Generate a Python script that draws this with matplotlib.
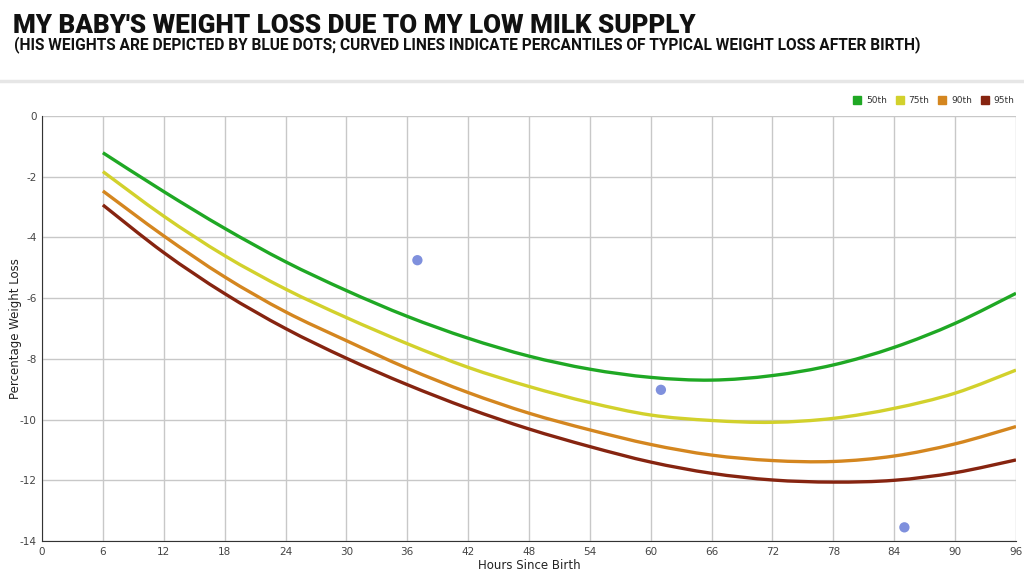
import matplotlib
matplotlib.use("Agg")
import matplotlib.pyplot as plt
from matplotlib.path import Path
from matplotlib.patches import PathPatch
import numpy as np

hours = [6, 12, 18, 24, 30, 36, 42, 48, 54, 60, 66, 72, 78, 84, 90, 96]
p50 = [-1.21, -2.49, -3.70, -4.80, -5.75, -6.60, -7.32, -7.91, -8.34, -8.61, -8.70, -8.55, -8.20, -7.62, -6.83, -5.84]
p75 = [-1.83, -3.30, -4.60, -5.70, -6.64, -7.50, -8.28, -8.91, -9.44, -9.85, -10.03, -10.09, -9.96, -9.63, -9.13, -8.37]
p90 = [-2.47, -3.95, -5.30, -6.45, -7.40, -8.31, -9.11, -9.79, -10.34, -10.82, -11.17, -11.35, -11.38, -11.20, -10.80, -10.23]
p95 = [-2.93, -4.50, -5.85, -7.00, -7.98, -8.85, -9.63, -10.31, -10.89, -11.40, -11.77, -11.99, -12.06, -12.00, -11.75, -11.33]

baby_hours = [37, 61, 85]
baby_loss = [-4.75, -9.02, -13.55]

series_labels = ["50th", "75th", "90th", "95th"]
series_colors = ["#1fa824", "#d2d12c", "#d4861f", "#862410"]

plt.rcParams["axes.unicode_minus"] = False


def smooth_path(x, y):
    # catmull-rom through the points, drawn as cubic bezier segments
    x = np.asarray(x, float)
    y = np.asarray(y, float)
    verts = [(x[0], y[0])]
    codes = [Path.MOVETO]
    n = len(x)
    for i in range(n - 1):
        i0 = max(i - 1, 0)
        i3 = min(i + 2, n - 1)
        c1 = (x[i] + (x[i + 1] - x[i0]) / 6, y[i] + (y[i + 1] - y[i0]) / 6)
        c2 = (x[i + 1] - (x[i3] - x[i]) / 6, y[i + 1] - (y[i3] - y[i]) / 6)
        verts += [c1, c2, (x[i + 1], y[i + 1])]
        codes += [Path.CURVE4] * 3
    return Path(verts, codes)


fig = plt.figure(figsize=(10.24, 5.75), dpi=100)
fig.patch.set_facecolor("white")

fig.text(13 / 1024, 1 - 26 / 575, "MY BABY'S WEIGHT LOSS DUE TO MY LOW MILK SUPPLY",
         fontsize=18.7, fontweight="black", family=["Roboto", "DejaVu Sans"],
         va="center", ha="left", color="#111111")
fig.text(14 / 1024, 1 - 45 / 575,
         "(HIS WEIGHTS ARE DEPICTED BY BLUE DOTS; CURVED LINES INDICATE PERCANTILES OF TYPICAL WEIGHT LOSS AFTER BIRTH)",
         fontsize=11.2, fontweight="bold", family=["Roboto", "DejaVu Sans"],
         va="center", ha="left", color="#111111")

# grey separator band
fig.add_artist(plt.Line2D([0, 1], [1 - 81 / 575, 1 - 81 / 575], color="#e6e6e6", lw=2.5,
                          transform=fig.transFigure))

ax = fig.add_axes([42 / 1024, 34 / 575, 974 / 1024, 425 / 575])

series = [p50, p75, p90, p95]
for vals, col in zip(series, series_colors):
    ax.add_patch(PathPatch(smooth_path(hours, vals), facecolor="none", edgecolor=col,
                           lw=2.4, capstyle="butt", zorder=3))

ax.scatter(baby_hours, baby_loss, s=55, color="#7f90dd", zorder=4, edgecolors="none")

ax.set_xlim(0, 96)
ax.set_ylim(-14, 0)
ax.set_xticks(np.arange(0, 97, 6))
ax.set_yticks(np.arange(-14, 1, 2))
ax.grid(True, color="#c8c8c8", lw=1)
ax.set_axisbelow(True)
for side in ["top", "right"]:
    ax.spines[side].set_visible(False)
ax.spines["left"].set_color("#333333")
ax.spines["bottom"].set_color("#333333")
ax.tick_params(length=0, labelsize=7.5, colors="#444444", pad=4)

ax.set_xlabel("Hours Since Birth", fontsize=8.5, color="#222222", labelpad=2)
ax.set_ylabel("Percentage Weight Loss", fontsize=8.5, color="#222222")
ax.yaxis.set_label_coords(-20 / 974, 0.5)

handles = [plt.Line2D([], [], marker="s", ls="none", color=c, markersize=6) for c in series_colors]
ax.legend(handles, series_labels, loc="lower right", bbox_to_anchor=(1.005, 1.01), ncol=4,
          frameon=False, fontsize=6.5, handletextpad=0.0, columnspacing=0.4,
          borderaxespad=0.3, labelcolor="#333333")

fig.savefig("out.png", dpi=100)
